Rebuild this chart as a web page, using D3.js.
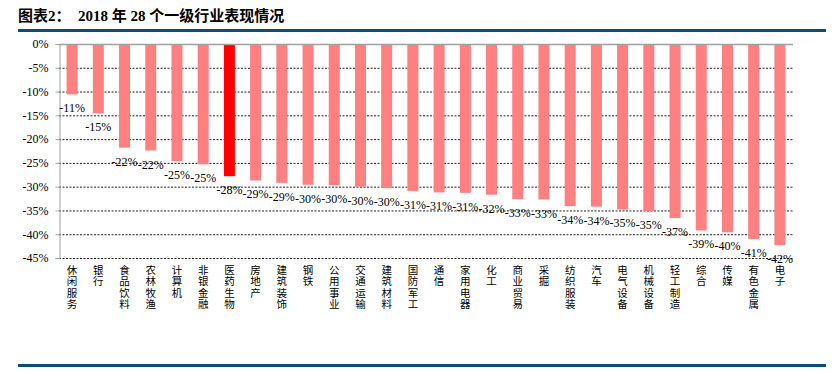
<!DOCTYPE html>
<html>
<head>
<meta charset="utf-8">
<script src="https://cdn.jsdelivr.net/npm/d3@7"></script>
<style>
  body { margin: 0; background: #fff; }
  svg { display: block; }
</style>
</head>
<body>
<svg id="chart"></svg>
<script>
// data
const industries = ['休闲服务', '银行', '食品饮料', '农林牧渔', '计算机', '非银金融', '医药生物', '房地产',
	'建筑装饰', '钢铁', '公用事业', '交通运输', '建筑材料', '国防军工', '通信', '家用电器', '化工',
	'商业贸易', '采掘', '纺织服装', '汽车', '电气设备', '机械设备', '轻工制造', '综合', '传媒', '有色金属', '电子'];
const returns = [-10.6, -14.6, -21.8, -22.4, -24.6, -25.3, -27.8, -28.7, -29.2, -29.6, -29.7, -30.0, -30.3,
	-30.9, -31.2, -31.3, -31.7, -32.6, -32.7, -34.1, -34.2, -34.8, -35.1, -36.6, -39.2, -39.6, -41.0, -42.3];
const highlight = ['医药生物'];
const yTicks = [0, -5, -10, -15, -20, -25, -30, -35, -40, -45];
const title = '图表2：  2018 年 28 个一级行业表现情况';

const width = 835, height = 372;
const plotLeft = 59, plotRight = 793, plotTop = 44, plotBottom = 258;
const navy = '#0d4c7a';

const svg = d3.select('#chart')
	.attr('width', width)
	.attr('height', height);

// header and footer rules
svg.append('text')
	.attr('x', 18)
	.attr('y', 21)
	.attr('font-family', '"Liberation Serif", "Noto Sans CJK SC", serif')
	.attr('font-weight', 'bold')
	.attr('font-size', 15)
	.attr('fill', '#000')
	.attr('xml:space', 'preserve')
	.text(title);
svg.append('rect').attr('x', 18).attr('y', 29).attr('width', 808).attr('height', 3).attr('fill', navy);
svg.append('rect').attr('x', 18).attr('y', 364).attr('width', 808).attr('height', 3).attr('fill', navy);

// scales
const x = d3.scaleBand()
	.domain(industries)
	.range([plotLeft, plotRight])
	.paddingInner(0.58)
	.paddingOuter(0.29);
const y = d3.scaleLinear()
	.domain([0, -45])
	.range([plotTop, plotBottom]);

// dashed gridlines
svg.append('g')
	.selectAll('line')
	.data(yTicks.filter(d => d !== 0))
	.enter()
	.append('line')
		.attr('x1', plotLeft)
		.attr('x2', plotRight)
		.attr('y1', d => y(d) + 0.5)
		.attr('y2', d => y(d) + 0.5)
		.attr('stroke', '#222')
		.attr('stroke-dasharray', '2,1.5');

// bars
svg.append('g')
	.selectAll('rect')
	.data(industries)
	.enter()
	.append('rect')
		.attr('x', d => x(d))
		.attr('y', y(0))
		.attr('width', x.bandwidth())
		.attr('height', (d, i) => y(returns[i]) - y(0))
		.attr('fill', d => highlight.includes(d) ? '#ff0000' : '#ff8080');

// y axis
const yAxis = d3.axisLeft(y)
	.tickValues(yTicks)
	.tickSize(4)
	.tickPadding(7)
	.tickFormat(d => d + '%');
const gy = svg.append('g')
	.attr('transform', `translate(${plotLeft + 0.5},0)`)
	.call(yAxis);
gy.select('.domain').attr('stroke', '#a0a0a0');
gy.selectAll('.tick line').attr('stroke', '#a0a0a0');
gy.selectAll('.tick text')
	.attr('font-family', '"Liberation Serif", "Times New Roman", serif')
	.attr('font-size', 12)
	.attr('fill', '#000');

// zero line on top
svg.append('line')
	.attr('x1', plotLeft)
	.attr('x2', plotRight)
	.attr('y1', y(0) + 0.5)
	.attr('y2', y(0) + 0.5)
	.attr('stroke', '#a0a0a0')
	.attr('stroke-width', 1.5);

// value labels below bar ends
svg.append('g')
	.selectAll('text')
	.data(industries)
	.enter()
	.append('text')
		.attr('x', d => x(d) + x.bandwidth() / 2)
		.attr('y', (d, i) => y(returns[i]) + 18)
		.attr('text-anchor', 'middle')
		.attr('font-family', '"Liberation Serif", "Times New Roman", serif')
		.attr('font-size', 12)
		.attr('fill', '#000')
		.text((d, i) => Math.round(returns[i]) + '%');

// vertical category labels, one character per line
const cats = svg.append('g')
	.selectAll('text')
	.data(industries)
	.enter()
	.append('text')
		.attr('font-family', '"Noto Sans CJK SC", sans-serif')
		.attr('font-size', 10.5)
		.attr('fill', '#000')
		.attr('text-anchor', 'middle');
cats.each(function(d) {
	const t = d3.select(this);
	d.split('').forEach((ch, k) => {
		t.append('tspan')
			.attr('x', x(d) + x.bandwidth() / 2)
			.attr('y', 274 + k * 11.3)
			.text(ch);
	});
});
</script>
</body>
</html>
